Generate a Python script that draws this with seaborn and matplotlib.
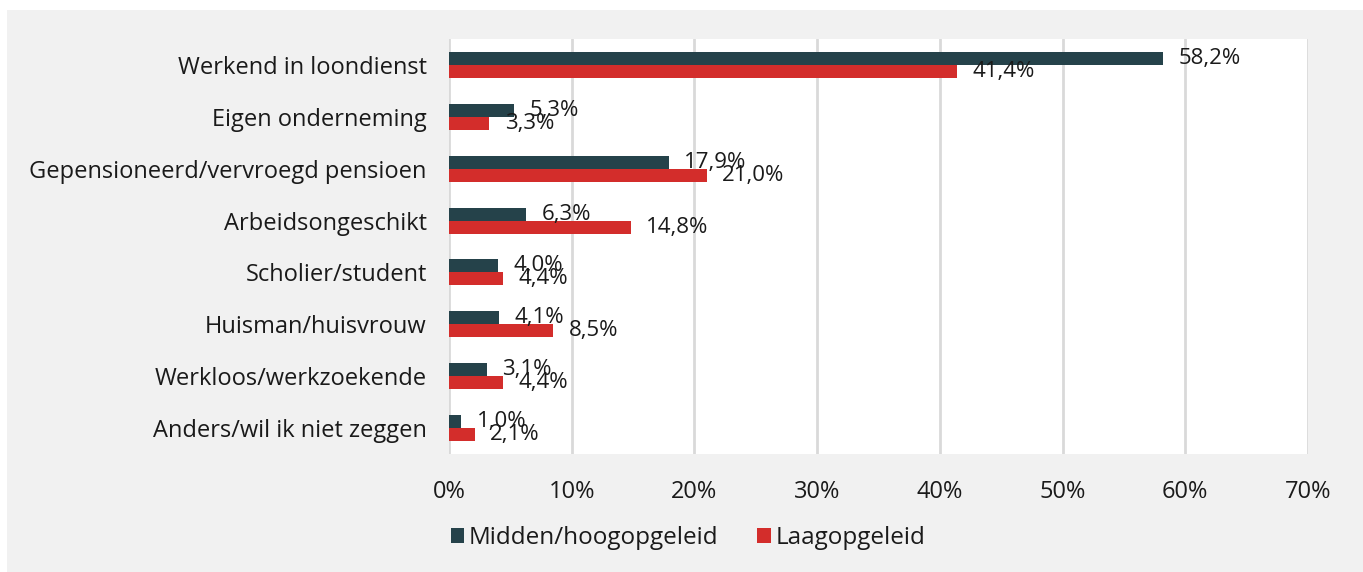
import matplotlib
matplotlib.use("Agg")
import matplotlib.pyplot as plt
from matplotlib.patches import Rectangle, Patch
import pandas as pd
import seaborn as sns

categories = [
    "Werkend in loondienst",
    "Eigen onderneming",
    "Gepensioneerd/vervroegd pensioen",
    "Arbeidsongeschikt",
    "Scholier/student",
    "Huisman/huisvrouw",
    "Werkloos/werkzoekende",
    "Anders/wil ik niet zeggen",
]
series_names = ["Midden/hoogopgeleid", "Laagopgeleid"]
midden_hoog = [58.2, 5.3, 17.9, 6.3, 4.0, 4.1, 3.1, 1.0]
laag = [41.4, 3.3, 21.0, 14.8, 4.4, 8.5, 4.4, 2.1]
x_ticks = [0, 10, 20, 30, 40, 50, 60, 70]

colors = ["#25424a", "#d32d2b"]
text_color = "#1a1a1a"

df = pd.DataFrame({
    "categorie": categories * 2,
    "groep": [series_names[0]] * len(categories) + [series_names[1]] * len(categories),
    "waarde": midden_hoog + laag,
})

sns.set_theme(style="white")
plt.rcParams["font.family"] = ["Open Sans", "DejaVu Sans"]

W, H, DPI = 1363, 572, 100
fig = plt.figure(figsize=(W / DPI, H / DPI), dpi=DPI, facecolor="white")

# grey card behind the chart
fig.patches.append(Rectangle((7 / W, 0), 1, 1 - 10 / H, transform=fig.transFigure,
                             facecolor="#f1f1f1", edgecolor="none", zorder=-10))

ax = fig.add_axes([449 / W, 1 - 454 / H, (1308 - 449) / W, (454 - 39) / H])
ax.set_facecolor("white")

sns.barplot(data=df, y="categorie", x="waarde", hue="groep", order=categories,
            hue_order=series_names, palette=colors, orient="h", width=0.5,
            gap=0, dodge=True, ax=ax, legend=False, saturation=1,
            edgecolor="none", linewidth=0, err_kws={"linewidth": 0})

ax.set_xlim(0, 70)
ax.set_ylim(7.5, -0.5)
ax.set_xticks(x_ticks)
ax.set_xticklabels([f"{t}%" for t in x_ticks], fontsize=17, color=text_color)
ax.tick_params(axis="x", length=0, pad=19)
ax.tick_params(axis="y", length=0, pad=16, labelsize=17, labelcolor=text_color)
ax.set_xlabel("")
ax.set_ylabel("")
for s in ax.spines.values():
    s.set_visible(False)
ax.grid(axis="x", color="#d9d9d9", linewidth=2)
ax.set_axisbelow(True)

for container, vals in zip(ax.containers, [midden_hoog, laag]):
    ax.bar_label(container, labels=[f"{v:.1f}%".replace(".", ",") for v in vals],
                 padding=11, fontsize=16, color=text_color)

handles = [Patch(facecolor=c, edgecolor="none") for c in colors]
fig.legend(handles, series_names, loc="center", bbox_to_anchor=(688 / W, 1 - 538 / H),
           ncol=2, frameon=False, fontsize=17.5, handlelength=0.55, handleheight=0.55,
           handletextpad=0.2, columnspacing=1.6, labelcolor=text_color)

fig.savefig("out.png", dpi=DPI, facecolor="white")
